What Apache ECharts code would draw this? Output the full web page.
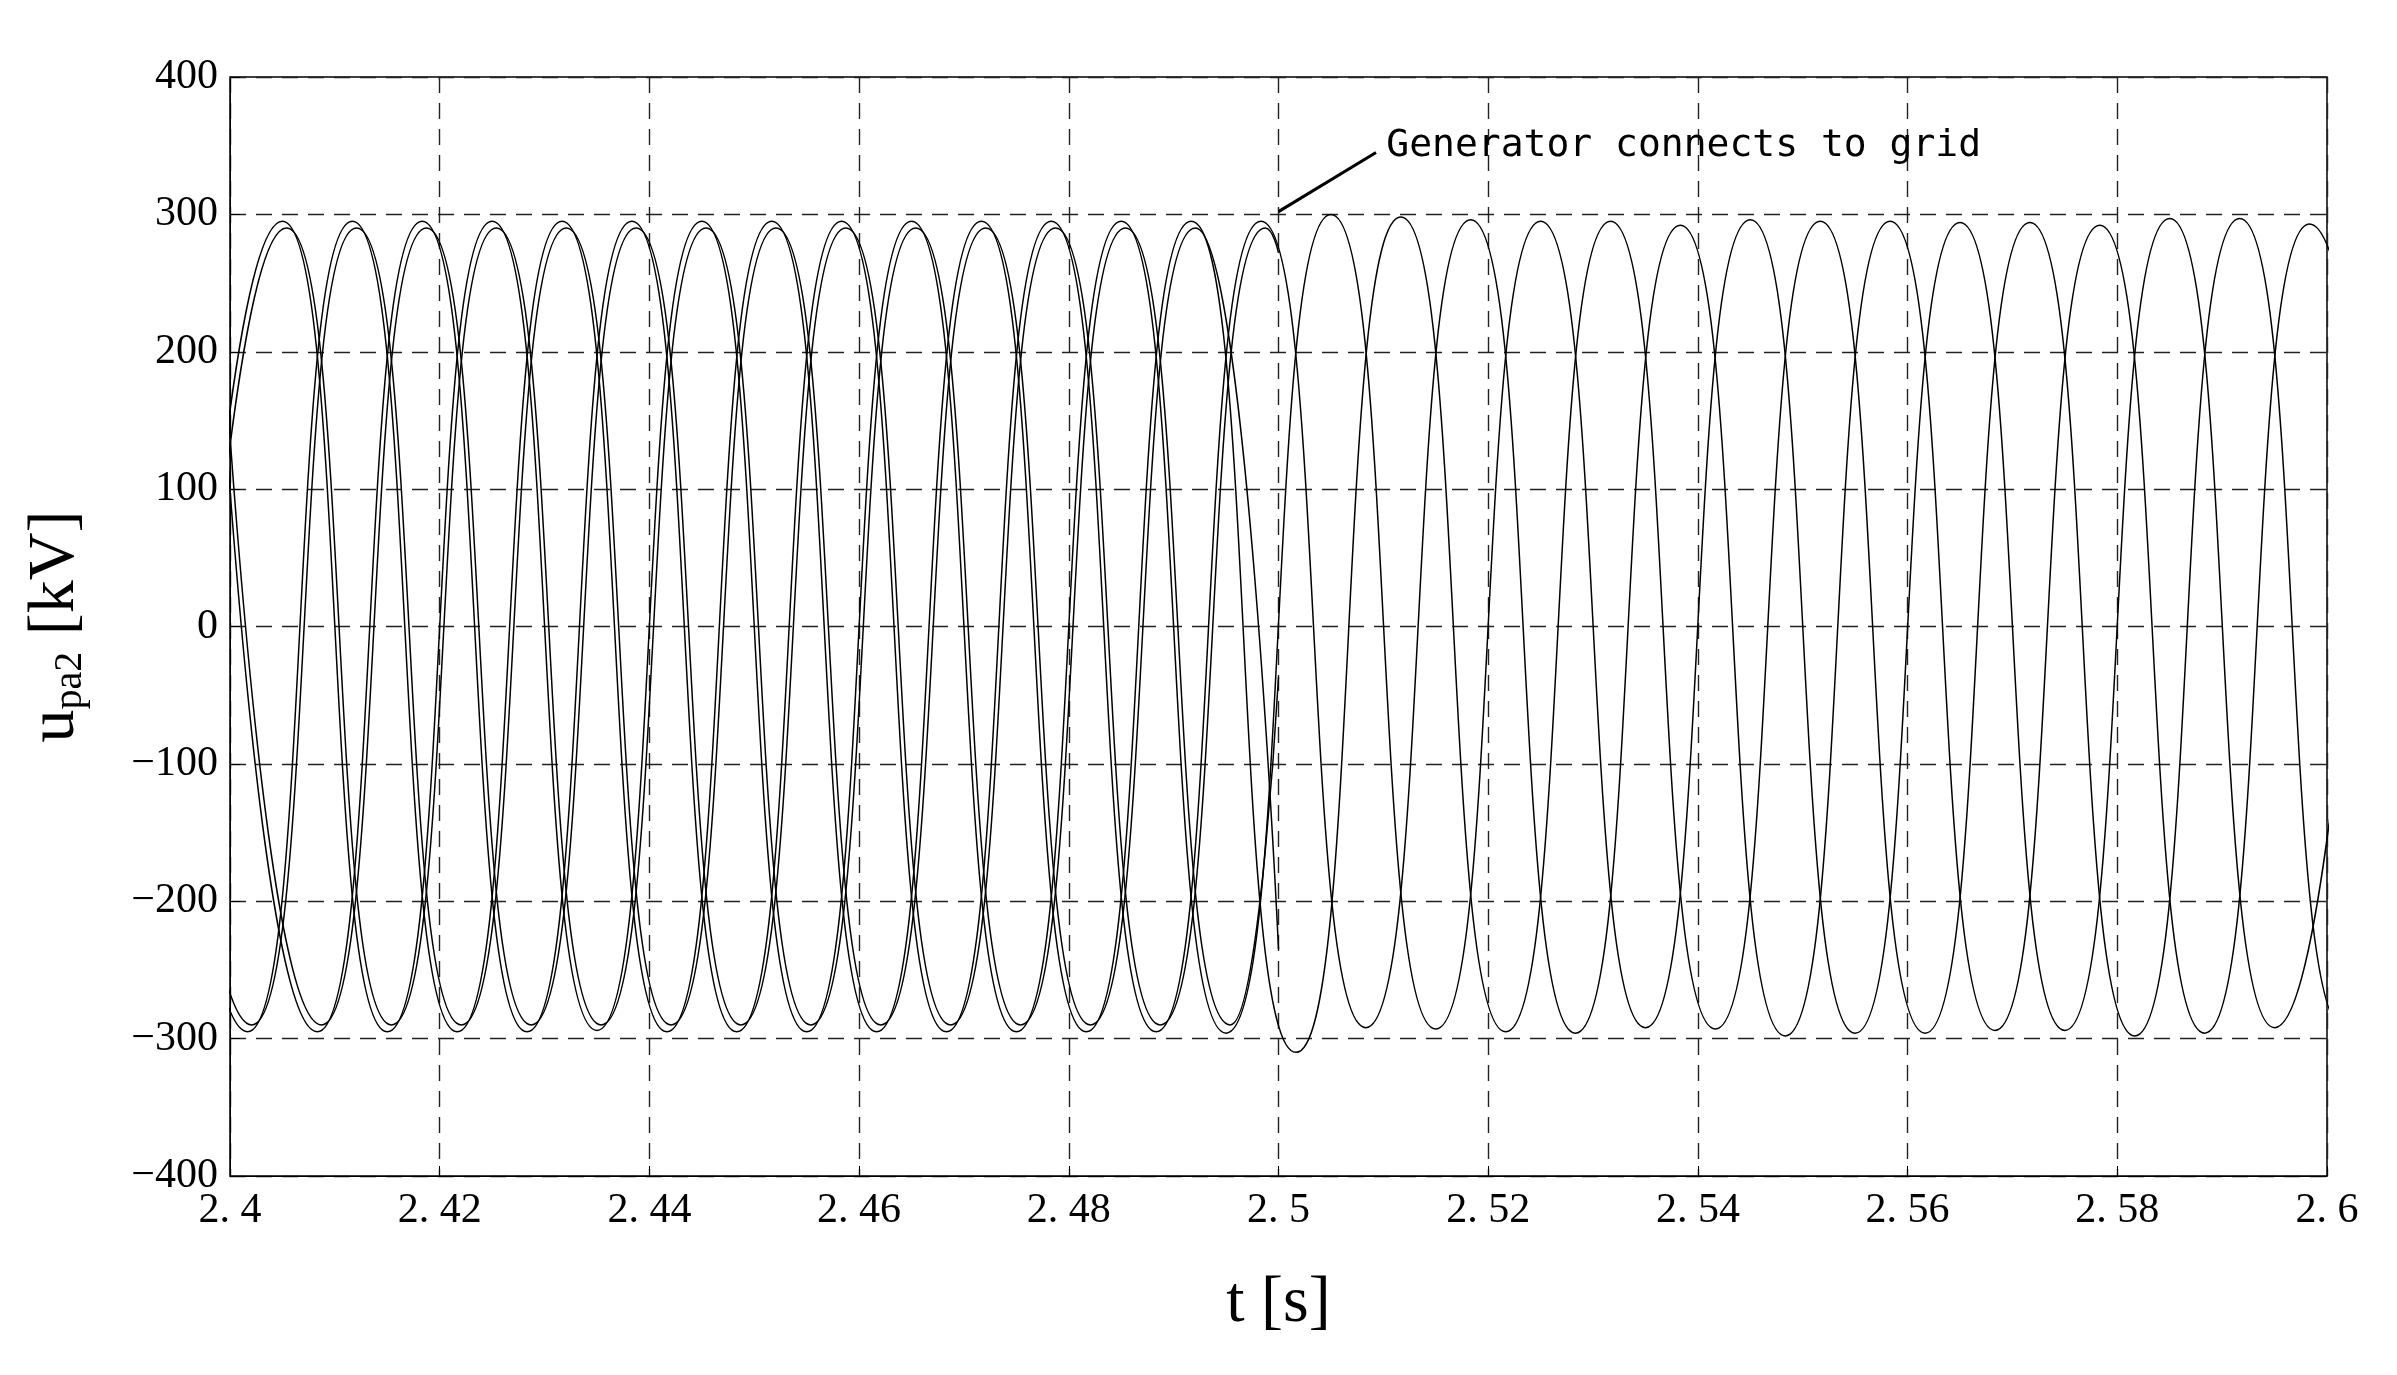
<!DOCTYPE html>
<html>
<head>
<meta charset="utf-8">
<title>upa2</title>
<script src="https://cdn.jsdelivr.net/npm/echarts@6/dist/echarts.min.js"></script>
<style>body{margin:0;background:#fff}</style>
</head>
<body>
<div id="main" style="width:2397px;height:1375px;"></div>
<script>
// 电网侧三相 (extremes)
var gridA_t = [2.395,2.405,2.415,2.425,2.435,2.445,2.455,2.465,2.475,2.485,2.495,2.505,2.515,2.525,2.535,2.545,2.555,2.565,2.575,2.585,2.595,2.605];
var gridA_v = [-295,295,-295,295,-294,295,-295,295,-295,295,-296,300,-293,295,-292,296,-296,294,-294,297,-292,296];
var gridB_t = [2.39167,2.40167,2.41167,2.42167,2.43167,2.44167,2.45167,2.46167,2.47167,2.48167,2.49167,2.50167,2.51167,2.52167,2.53167,2.54167,2.55167,2.56167,2.57167,2.58167,2.59167,2.60167,2.61167];
var gridB_v = [295,-295,295,-295,295,-295,295,-295,295,-295,295,-310,298,-295,295,-293,295,-296,294,-298,297,-293,295];
var gridC_t = [2.39833,2.40833,2.41833,2.42833,2.43833,2.44833,2.45833,2.46833,2.47833,2.48833,2.49833,2.50833,2.51833,2.52833,2.53833,2.54833,2.55833,2.56833,2.57833,2.58833,2.59833,2.60833];
var gridC_v = [295,-295,295,-295,295,-295,295,-295,295,-295,295,-292,296,-296,292,-298,295,-294,292,-296,293,-295];
// 发电机侧三相 (until connection at 2.5 s)
var genA_t = [2.3954,2.4054,2.4154,2.4254,2.4354,2.4454,2.4554,2.4654,2.4754,2.4854,2.4954,2.5];
var genA_v = [-290,290,-290,290,-290,290,-290,290,-290,290,-290,-37];
var genB_t = [2.39207,2.40207,2.41207,2.42207,2.43207,2.44207,2.45207,2.46207,2.47207,2.48207,2.49207,2.5];
var genB_v = [290,-290,290,-290,290,-290,290,-290,290,-290,290,-235];
var genC_t = [2.39873,2.40873,2.41873,2.42873,2.43873,2.44873,2.45873,2.46873,2.47873,2.48873,2.49873,2.5];
var genC_v = [290,-290,290,-290,290,-290,290,-290,290,-290,290,272];

var xTicks = [2.4,2.42,2.44,2.46,2.48,2.5,2.52,2.54,2.56,2.58,2.6];

function pairs(t, v) {
    return t.map(function (x, i) { return [x, v[i]]; });
}
function wave(t, v) {
    return {
        type: 'line', data: pairs(t, v), smooth: 0.6, smoothMonotone: 'x',
        symbol: 'none', silent: true,
        lineStyle: { color: '#000', width: 1.5 }
    };
}

var myChart = echarts.init(document.getElementById('main'));
var dash = { show: true, lineStyle: { color: '#222', type: [16, 10], width: 1.4 } };
var font = 'Liberation Serif';

var series = [
    wave(gridA_t, gridA_v), wave(gridB_t, gridB_v), wave(gridC_t, gridC_v),
    wave(genA_t, genA_v), wave(genB_t, genB_v), wave(genC_t, genC_v)
];
// annotation pointer
series.push({
    type: 'line', data: [], silent: true,
    markLine: {
        symbol: 'none', silent: true,
        lineStyle: { color: '#000', type: 'solid', width: 3 },
        label: {
            show: true, position: 'end', formatter: 'Generator connects to grid',
            fontFamily: 'DejaVu Sans Mono', fontSize: 38, color: '#000', distance: 12
        },
        data: [[{ coord: [2.5, 302] }, { coord: [2.5093, 345] }]]
    }
});

var option = {
    animation: false,
    grid: { left: 230, right: 70, top: 77, bottom: 199, show: true, borderColor: '#000', borderWidth: 1.5 },
    xAxis: {
        type: 'value', min: 2.4, max: 2.6, interval: 0.02,
        axisLine: { onZero: false, lineStyle: { color: '#000' } },
        axisTick: { show: true, inside: true, length: 10, lineStyle: { color: '#000' } },
        splitLine: dash,
        axisLabel: {
            color: '#000', fontFamily: font, fontSize: 42, margin: 14,
            formatter: function (v) {
                var s = xTicks.filter(function (x) { return Math.abs(x - v) < 1e-6; });
                return s.length ? String(s[0]).replace('.', '. ') : '';
            }
        },
        name: 't [s]', nameLocation: 'middle', nameGap: 95,
        nameTextStyle: { color: '#000', fontFamily: font, fontSize: 66 }
    },
    yAxis: {
        type: 'value', min: -400, max: 400, interval: 100,
        axisLine: { lineStyle: { color: '#000' } },
        axisTick: { show: true, inside: true, length: 10, lineStyle: { color: '#000' } },
        splitLine: dash,
        axisLabel: {
            color: '#000', fontFamily: font, fontSize: 42, margin: 12,
            formatter: function (v) { return v < 0 ? '\u2212' + (-v) : String(v); }
        },
        name: '{u|u}{s|pa2}{u| [kV]}', nameLocation: 'middle', nameGap: 140, nameRotate: 90,
        nameTextStyle: {
            color: '#000', fontFamily: font,
            rich: {
                u: { fontFamily: font, fontSize: 66, color: '#000' },
                s: { fontFamily: font, fontSize: 40, color: '#000', verticalAlign: 'bottom', padding: [28, 0, 0, 0] }
            }
        }
    },
    series: series
};
myChart.setOption(option);
</script>
</body>
</html>
